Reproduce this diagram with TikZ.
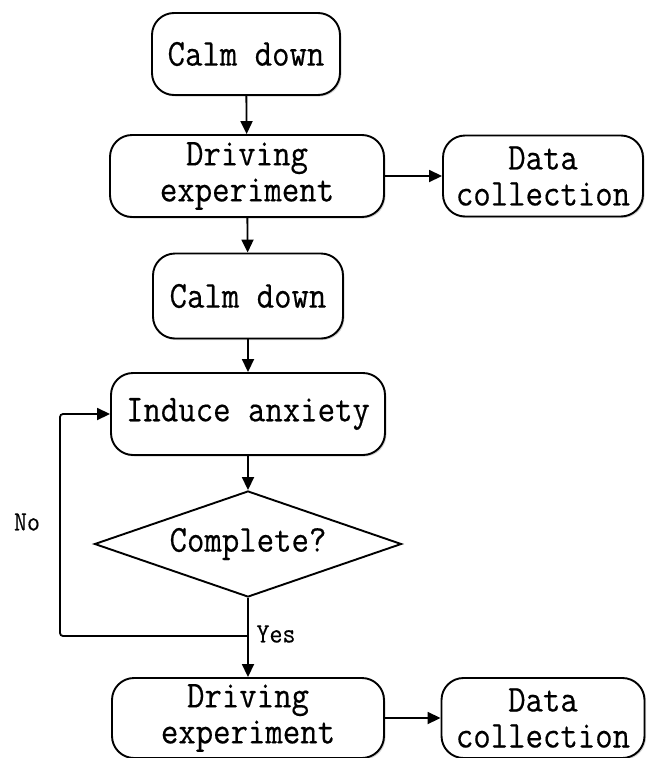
\documentclass[tikz,border=0pt]{standalone}
\usepackage{fontspec}
\newfontfamily\boxfont[FakeStretch=0.89,FakeBold=0.4]{Latin Modern Mono}
\newfontfamily\lblfont[FakeStretch=0.9,FakeBold=0.3]{Latin Modern Mono}
\usetikzlibrary{shapes.geometric,arrows.meta,shadows}
\begin{document}
\begin{tikzpicture}[x=1pt,y=-1pt,
  every node/.style={font=\boxfont\fontsize{38}{36}\selectfont, align=center, inner sep=0pt},
  box/.style={draw, line width=1.9pt, rounded corners=22pt, fill=white,
    drop shadow={shadow xshift=1.5pt, shadow yshift=-1.5pt, opacity=0.35}},
  arr/.style={line width=1.8pt, -{Triangle[length=13pt,width=12pt]}},
  lbl/.style={font=\lblfont\fontsize{28}{28}\selectfont}]
\useasboundingbox (0,0) rectangle (649,758);
\node[box, minimum width=188pt, minimum height=82pt] (calm1) at (246,54) {Calm down};
\node[box, minimum width=274pt, minimum height=82pt] (drive1) at (247,176) {Driving\\experiment};
\node[box, minimum width=200pt, minimum height=81pt] (data1) at (543,176) {Data\\collection};
\node[box, minimum width=190pt, minimum height=85pt] (calm2) at (248,296) {Calm down};
\node[box, minimum width=274pt, minimum height=82pt] (induce) at (248,414) {Induce anxiety};
\node[draw, line width=1.9pt, diamond, shape aspect=2.9, minimum width=307pt, minimum height=106pt, fill=white] (dia) at (248,544) {Complete?};
\node[box, minimum width=272pt, minimum height=80pt] (drive2) at (248,718) {Driving\\experiment};
\node[box, minimum width=203pt, minimum height=80pt] (data2) at (543,718) {Data\\collection};
\coordinate (jn) at (248,636);
\coordinate (lc) at (60,636);
\draw[arr] (calm1) -- (drive1);
\draw[arr] (drive1.east) -- (data1.west);
\draw[arr] (drive1) -- (calm2);
\draw[arr] (calm2) -- (induce);
\draw[arr] (induce) -- (dia);
\draw[line width=1.8pt] (dia.south) -- (jn);
\draw[arr] (jn) -- (drive2);
\draw[arr, rounded corners=3pt] (jn) -- (lc) |- (induce.west);
\draw[arr] (drive2.east) -- (data2.west);
\node[lbl] (no) at (27,522) {No};
\node[lbl] (yes) at (276,634) {Yes};
\end{tikzpicture}
\end{document}
